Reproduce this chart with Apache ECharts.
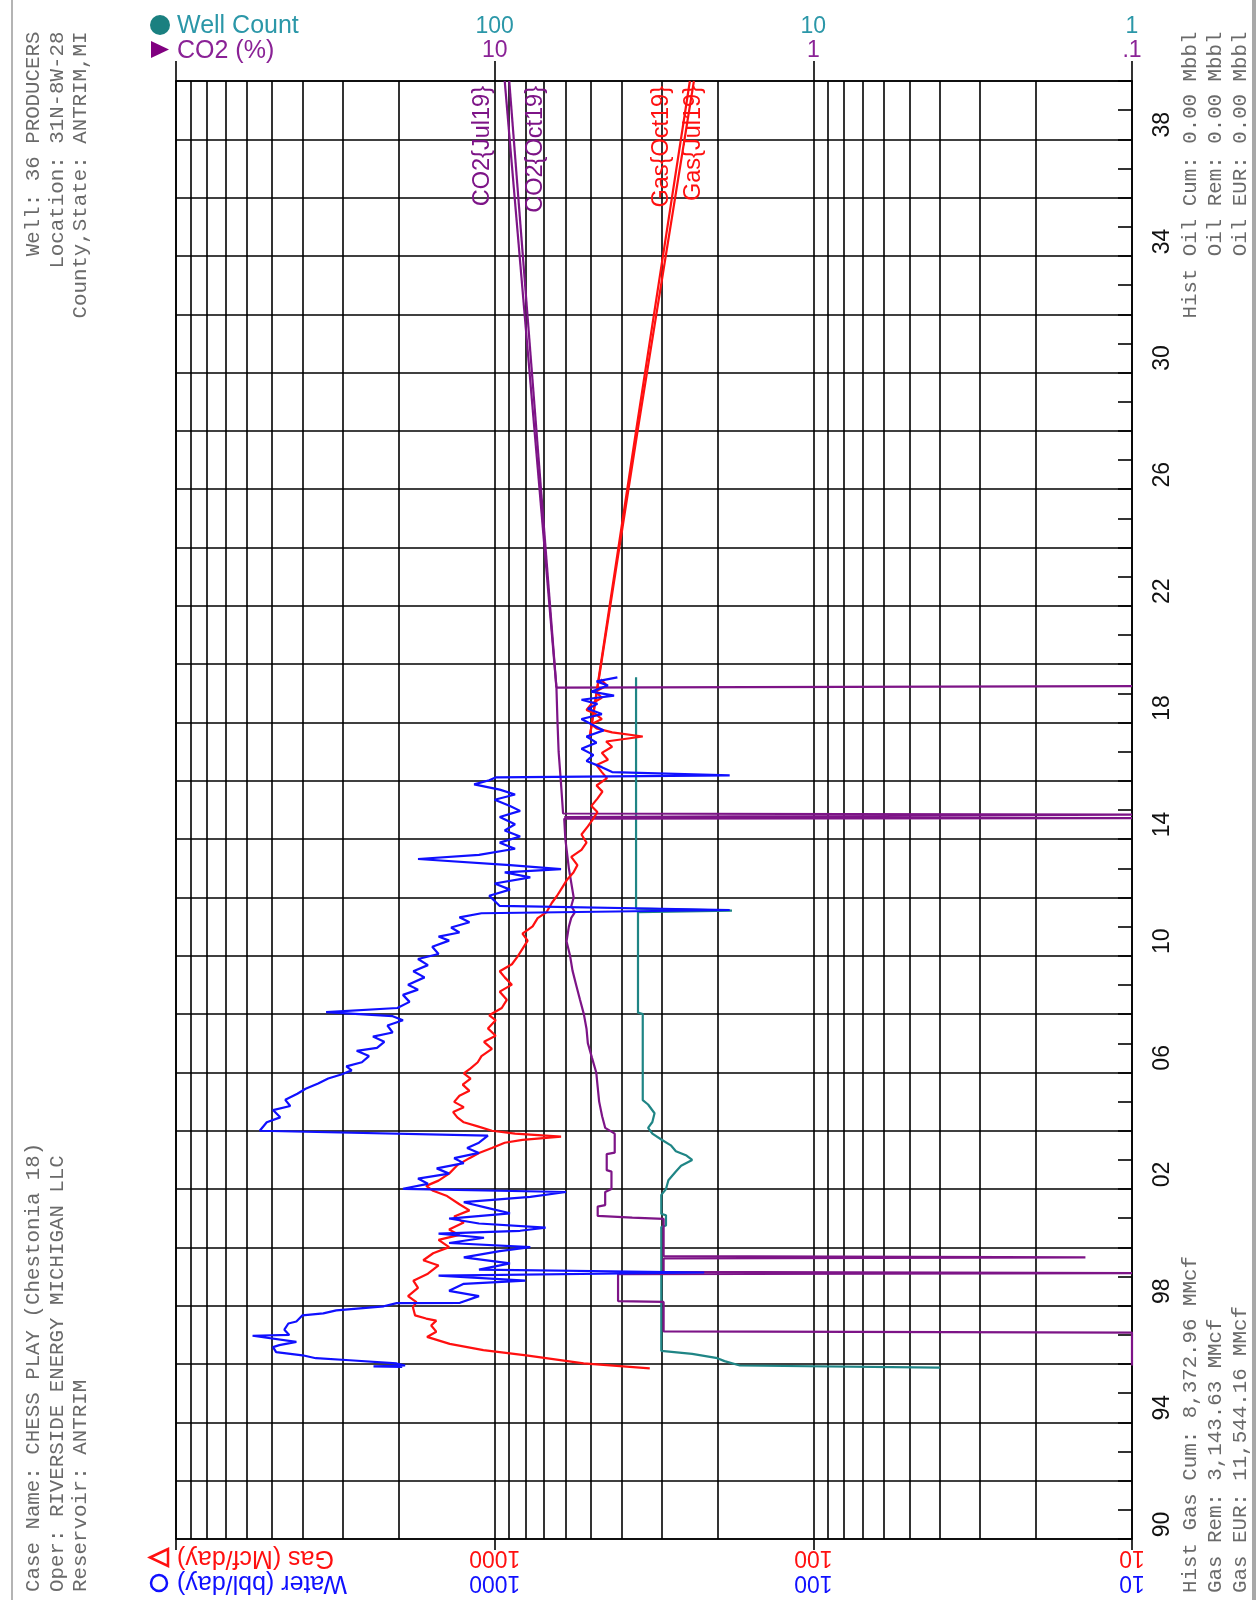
<!DOCTYPE html>
<html>
<head>
<meta charset="utf-8">
<title>CHESS PLAY (Chestonia 18) - Production</title>
<script src="https://cdn.jsdelivr.net/npm/echarts@6/dist/echarts.min.js"></script>
<style>
html, body { margin: 0; padding: 0; background: #fff; }
#chart { width: 1259px; height: 1600px; }
</style>
</head>
<body>
<div id="chart"></div>
<script>
// ---------------- data ----------------
// Water rate, bbl/day
const waterYears = [1995.90,1995.92,1995.95,1996.02,1996.13,1996.20,1996.30,1996.41,1996.58,1996.65,1996.76,1996.97,1997.00,1997.18,1997.39,1997.46,1997.67,1997.74,1997.84,1997.98,
  1998.09,1998.10,1998.33,1998.51,1998.75,1998.86,1999.03,1999.14,1999.24,1999.45,1999.66,1999.87,2000.01,2000.15,2000.33,2000.47,2000.57,2000.68,2000.82,2000.99,
  2001.17,2001.34,2001.55,2001.73,2001.90,2002.01,2002.18,2002.36,2002.53,2002.71,2002.89,2003.06,2003.24,2003.41,2003.59,2003.83,2004.00,2004.29,2004.46,2004.71,
  2004.85,2005.06,2005.27,2005.44,2005.62,2005.79,2005.93,2006.07,2006.21,2006.35,2006.56,2006.74,2006.84,2007.05,2007.23,2007.37,2007.61,2007.79,2007.93,2008.07,
  2008.21,2008.42,2008.66,2008.84,2009.01,2009.26,2009.47,2009.68,2009.89,2010.06,2010.31,2010.52,2010.66,2010.80,2010.97,2011.15,2011.32,2011.46,2011.57,2011.71,
  2012.06,2012.27,2012.48,2012.69,2012.86,2012.97,2013.11,2013.32,2013.46,2013.67,2013.88,2014.09,2014.30,2014.51,2014.76,2014.97,2015.14,2015.35,2015.53,2015.70,
  2015.88,2016.02,2016.12,2016.19,2016.30,2016.47,2016.68,2016.89,2017.10,2017.31,2017.52,2017.73,2017.94,2018.12,2018.29,2018.47,2018.64,2018.78,2018.92,2019.06,
  2019.27,2019.41,2019.55];
const waterRates = [1950,2400,1910,2030,2850,3640,4010,4850,4960,4740,4190,5750,4410,4570,4440,4190,4010,3450,3140,2230,
  2030,1285,1120,1390,1250,801,1500,220,1120,895,1250,964,773,1390,1080,1500,832,692,1120,1390,
  895,1040,1250,773,597,1940,1620,1740,1390,1520,1250,1340,1120,1220,1120,1050,5460,5190,4710,4960,
  4380,4540,4160,3920,3580,3330,3030,2810,2920,2610,2480,2710,2340,2220,2410,2090,2170,1940,2090,3380,
  2020,1850,1940,1740,1870,1660,1800,1620,1740,1500,1570,1390,1500,1290,1370,1200,1290,1100,183,964,
  1040,895,1000,773,930,619,895,1740,1120,863,964,832,930,863,964,832,895,1000,863,964,
  1160,1040,990,183,428,461,515,490,534,479,515,455,497,534,461,510,476,534,422,497,
  441,479,412];

// Gas rate, Mcf/day
const gasYears = [1995.85,1996.02,1996.30,1996.48,1996.69,1996.93,1997.11,1997.32,1997.49,1997.56,1997.67,1997.95,1998.12,1998.33,1998.61,1998.86,1999.10,1999.38,1999.56,1999.80,
  2000.01,2000.26,2000.43,2000.61,2000.85,2001.06,2001.27,2001.48,2001.76,2001.94,2002.11,2002.29,2002.53,2002.82,2003.06,2003.24,2003.41,2003.59,2003.69,2003.80,
  2003.90,2004.00,2004.15,2004.29,2004.46,2004.64,2004.81,2004.99,2005.20,2005.37,2005.58,2005.79,2005.97,2006.14,2006.35,2006.56,2006.81,2007.05,2007.26,2007.51,
  2007.79,2007.96,2008.21,2008.49,2008.77,2009.01,2009.26,2009.47,2009.71,2009.96,2010.24,2010.52,2010.76,2011.01,2011.29,2011.50,2011.81,2012.06,2012.34,2012.62,
  2012.86,2013.11,2013.39,2013.63,2013.88,2014.16,2014.44,2014.68,2014.93,2015.14,2015.39,2015.63,2015.84,2016.09,2016.30,2016.54,2016.72,2016.96,2017.17,2017.35,
  2017.52,2017.66,2017.80,2017.94,2018.12,2018.29,2018.43,2018.64,2018.85,2019.06,2019.27,2019.48];
const gasRates = [326,526,796,1085,1384,1630,1525,1582,1525,1641,1778,1805,1760,1870,1740,1800,1620,1500,1675,1560,
  1390,1500,1290,1390,1250,1340,1200,1290,1410,1560,1640,1500,1390,1310,1200,1120,1020,930,818,619,
  863,1020,1130,1250,1310,1350,1250,1340,1290,1200,1260,1190,1250,1190,1130,1100,1020,1080,993,1050,
  993,1040,950,916,964,883,930,964,883,849,818,788,818,760,733,687,662,637,614,592,
  566,550,575,534,515,534,510,492,476,497,476,459,479,444,461,479,441,461,428,447,
  343,428,479,497,461,482,515,497,461,482,444,465];

// Gas decline forecasts, Mcf/day
const gasJul19Years = [2017.5, 2028.0, 2040.0];
const gasJul19Rates = [503, 356, 237];
const gasOct19Years = [2017.5, 2028.0, 2040.0];
const gasOct19Rates = [503, 360, 244];

// Producing well count
const wellYears = [1995.88,1995.95,1996.10,1996.20,1996.35,1996.45,2000.70,2000.75,2001.10,2001.15,2001.80,2002.00,2002.30,2002.60,2002.80,2003.00,2003.15,2003.30,2003.50,2003.70,
  2003.90,2004.10,2004.30,2004.60,2004.90,2005.05,2008.00,2008.05,2011.50,2011.55,2011.62,2019.55];
const wellCounts = [4,17,19,20,24,30,30,29,29,30,30,29,28.5,27,26,24,25,27,28,30,
  32,33,32,31.5,33,34.3,34.3,35.5,35.5,18,36,36];

// CO2 content, %
const co2Years = [1995.95,1997.08,1997.12,1998.13,1998.16,1999.08,1999.12,1999.16,1999.62,1999.66,1999.70,2000.98,2001.02,2001.08,2001.40,2001.45,2001.90,2002.00,2002.60,2002.65,
  2003.20,2003.25,2003.90,2004.10,2004.50,2005.00,2005.50,2006.00,2006.50,2007.00,2007.50,2008.00,2008.50,2009.00,2009.50,2010.00,2010.50,2011.00,2011.30,2011.50,
  2011.70,2012.00,2013.00,2014.00,2014.70,2014.72,2014.76,2014.84,2014.88,2016.00,2017.00,2018.00,2019.20,2019.25];
const co2Pct = [0.1,0.1,2.95,2.95,4.1,4.1,0.1,2.95,2.95,0.14,2.95,2.95,3.7,4.75,4.75,4.5,4.5,4.3,4.3,4.45,
  4.45,4.2,4.2,4.5,4.6,4.7,4.75,4.8,4.95,5.1,5.15,5.25,5.4,5.55,5.7,5.8,5.95,5.85,5.75,5.6,
  5.75,5.65,5.85,6.0,6.05,0.1,6.05,0.1,6.1,6.2,6.3,6.35,6.4,0.1];

// CO2 forecasts, %
const co2Jul19Years = [2019.2, 2040.0];
const co2Jul19Pct = [6.4, 9.3];
const co2Oct19Years = [2019.2, 2040.0];
const co2Oct19Pct = [6.4, 9.0];

// Axis tick labels
const yearLabels = ['90','94','98','02','06','10','14','18','22','26','30','34','38'];
const rateLabels = { 1: '10', 2: '100', 3: '1000' };          // Gas / Water (bottom)
const wellLabels = { 0: '1', 1: '10', 2: '100' };             // Well Count (top)
const co2Labels  = { 0: '.1', 1: '1', 2: '10' };              // CO2 (top)
const minorSteps = [2, 3, 4, 5, 6, 7, 8, 9];
const decades = [10, 100, 1000];

// Header / footer text
const infoTopLeft = ['Well: 36 PRODUCERS', 'Location: 31N-8W-28', 'County,State: ANTRIM,MI'];
const infoBottomLeft = ['Case Name: CHESS PLAY (Chestonia 18)', 'Oper: RIVERSIDE ENERGY MICHIGAN LLC', 'Reservoir: ANTRIM'];
const infoTopRight = ['Hist Oil Cum: 0.00 Mbbl', 'Oil Rem: 0.00 Mbbl', 'Oil EUR: 0.00 Mbbl'];
const infoBottomRight = ['Hist Gas Cum: 8,372.96 MMcf', 'Gas Rem: 3,143.63 MMcf', 'Gas EUR: 11,544.16 MMcf'];

// ---------------- styling ----------------
const C = {
  water: '#1010ff', gas: '#ff1010', well: '#1f8585', co2: '#7d1487',
  wellText: '#2b97a8', co2Text: '#8a2296', grid: '#000000', info: '#6a6a6a'
};
const GRID_W = 1.6;
const LINE_W = 2.2;
const SANS = '"Liberation Sans", Arial, sans-serif';
const MONO = '"Liberation Mono", "Courier New", monospace';

const pairs = (ys, vs) => ys.map((y, i) => [vs[i], y]);
const lg = v => Math.round(Math.log10(v));

function lineSeries(name, xi, data, color, extra) {
  return Object.assign({
    name, type: 'line', xAxisIndex: xi, yAxisIndex: 0, data,
    symbol: 'none', silent: true, animation: false,
    lineStyle: { color, width: LINE_W }, itemStyle: { color }
  }, extra || {});
}

// forecast line with its tag written along the line's top end
// (label offset is given in the rotated text frame: [along text, across text])
function forecastSeries(name, xi, ys, vs, color, dx) {
  const data = pairs(ys, vs);
  const last = data.length - 1;
  data[last] = {
    value: data[last],
    label: {
      show: true, formatter: name, rotate: 90, position: 'inside',
      align: 'right', verticalAlign: 'middle', offset: [-5, dx],
      color, fontFamily: SANS, fontSize: 23.5
    }
  };
  return lineSeries(name, xi, data, color, {
    symbol: 'circle', symbolSize: 0, showSymbol: true, showAllSymbol: true,
    itemStyle: { color: 'rgba(0,0,0,0)' }
  });
}

const minorValues = [];
decades.forEach(d => minorSteps.forEach(s => minorValues.push(d * s)));

function infoBlock(lines, xs, yAnchor, align) {
  return lines.map((t, i) => ({
    type: 'text', x: xs[i], y: yAnchor, rotation: Math.PI / 2, silent: true,
    style: { text: t, fill: C.info, font: '20.8px ' + MONO, textAlign: align, textVerticalAlign: 'middle' }
  }));
}

const chart = echarts.init(document.getElementById('chart'), null, { renderer: 'canvas' });

const option = {
  animation: false,
  backgroundColor: '#ffffff',
  textStyle: { fontFamily: SANS },
  grid: { left: 176, right: 127, top: 81, bottom: 61, containLabel: false, outerBoundsMode: 'none' },
  xAxis: [
    { // Gas (Mcf/day) and Water (bbl/day)
      type: 'log', logBase: 10, min: 10, max: 10000, inverse: true, position: 'bottom',
      axisLine: { show: true, lineStyle: { color: C.grid, width: GRID_W } },
      axisTick: { show: true, length: 11, lineStyle: { color: C.grid, width: GRID_W } },
      splitLine: { show: true, lineStyle: { color: C.grid, width: GRID_W } },
      minorTick: { show: false }, minorSplitLine: { show: false },
      axisLabel: {
        show: true, rotate: 180, margin: 6,
        formatter: v => {
          const t = rateLabels[lg(v)];
          return t ? '{w|' + t + '}\n{g|' + t + '}' : '';
        },
        rich: {
          g: { color: C.gas, fontSize: 23, lineHeight: 25, fontFamily: SANS },
          w: { color: C.water, fontSize: 23, lineHeight: 25, fontFamily: SANS }
        }
      }
    },
    { // Well Count
      type: 'log', logBase: 10, min: 1, max: 1000, inverse: true, position: 'top',
      axisLine: { show: true, lineStyle: { color: C.grid, width: GRID_W } },
      axisTick: { show: true, length: 20, lineStyle: { color: C.grid, width: GRID_W } },
      splitLine: { show: false }, minorTick: { show: false },
      axisLabel: {
        show: true, margin: 18,
        formatter: v => {
          const e = lg(v);
          return wellLabels[e] ? '{a|' + wellLabels[e] + '}\n{b|' + co2Labels[e] + '}' : '';
        },
        rich: {
          a: { color: C.wellText, fontSize: 23, lineHeight: 24, fontFamily: SANS },
          b: { color: C.co2Text, fontSize: 23, lineHeight: 24, fontFamily: SANS }
        }
      }
    },
    { // CO2 (%)
      type: 'log', logBase: 10, min: 0.1, max: 100, inverse: true, position: 'top', show: false
    }
  ],
  yAxis: [
    { // two-year grid
      type: 'value', min: 1990, max: 2040, interval: 2, position: 'left',
      axisLine: { show: true, lineStyle: { color: C.grid, width: GRID_W } },
      axisTick: { show: false }, axisLabel: { show: false },
      splitLine: { show: true, lineStyle: { color: C.grid, width: GRID_W } }
    },
    { // yearly ticks on the right edge
      type: 'value', min: 1990, max: 2040, interval: 1, position: 'right',
      axisLine: { show: true, lineStyle: { color: C.grid, width: GRID_W } },
      axisTick: { show: true, inside: true, length: 14, lineStyle: { color: C.grid, width: GRID_W } },
      axisLabel: { show: false }, splitLine: { show: false }
    },
    { // year labels, centred in their year
      type: 'value', min: 1990, max: 2040, interval: 0.5, position: 'right',
      axisLine: { show: false }, axisTick: { show: false }, splitLine: { show: false },
      axisLabel: {
        show: true, rotate: 90, margin: 19, color: '#111', fontSize: 23, lineHeight: 24, fontFamily: SANS,
        formatter: v => {
          const k = (v - 1990.5) / 4;
          return (Math.abs(k - Math.round(k)) < 1e-6 && yearLabels[Math.round(k)]) ? yearLabels[Math.round(k)] : '';
        }
      }
    }
  ],
  series: [
    { // minor log grid lines (2..9 within each decade)
      type: 'line', xAxisIndex: 0, yAxisIndex: 0, data: [[10, 1990]], symbol: 'none', silent: true,
      lineStyle: { width: 0, opacity: 0 },
      markLine: {
        silent: true, symbol: ['none', 'none'], z: 1, animation: false,
        label: { show: false }, emphasis: { disabled: true },
        lineStyle: { color: C.grid, width: GRID_W, type: 'solid' },
        data: minorValues.map(v => ({ xAxis: v }))
      }
    },
    lineSeries('Well Count', 1, pairs(wellYears, wellCounts), C.well),
    lineSeries('CO2', 2, pairs(co2Years, co2Pct), C.co2),
    forecastSeries('CO2{Jul19}', 2, co2Jul19Years, co2Jul19Pct, C.co2, -22),
    forecastSeries('CO2{Oct19}', 2, co2Oct19Years, co2Oct19Pct, C.co2, 26),
    lineSeries('Gas', 0, pairs(gasYears, gasRates), C.gas),
    forecastSeries('Gas{Oct19}', 0, gasOct19Years, gasOct19Rates, C.gas, -28),
    forecastSeries('Gas{Jul19}', 0, gasJul19Years, gasJul19Rates, C.gas, 0),
    lineSeries('Water', 0, pairs(waterYears, waterRates), C.water)
  ],
  graphic: [
    // page frame
    { type: 'rect', shape: { x: 11, y: 0, width: 2, height: 1600 }, style: { fill: '#b4b4b4' }, silent: true },
    { type: 'rect', shape: { x: 1252, y: 0, width: 4, height: 1600 }, style: { fill: '#a8a8a8' }, silent: true },
    // legend: top
    { type: 'circle', shape: { cx: 160, cy: 25, r: 10 }, style: { fill: '#1a8080' }, silent: true },
    { type: 'polygon', shape: { points: [[151, 41], [151, 58], [169, 49.5]] }, style: { fill: '#800080' }, silent: true },
    { type: 'text', x: 177, y: 26, silent: true,
      style: { text: 'Well Count', fill: C.wellText, font: '25px ' + SANS, textAlign: 'left', textVerticalAlign: 'middle' } },
    { type: 'text', x: 177, y: 51, silent: true,
      style: { text: 'CO2 (%)', fill: C.co2Text, font: '25px ' + SANS, textAlign: 'left', textVerticalAlign: 'middle' } },
    // legend: bottom (upside down)
    { type: 'polygon', shape: { points: [[150, 1557.5], [168, 1549], [168, 1566]] },
      style: { fill: 'none', stroke: C.gas, lineWidth: 2.5 }, silent: true },
    { type: 'circle', shape: { cx: 159, cy: 1583, r: 8 }, style: { fill: 'none', stroke: C.water, lineWidth: 2.5 }, silent: true },
    { type: 'text', x: 177, y: 1557.5, rotation: Math.PI, silent: true,
      style: { text: 'Gas (Mcf/day)', fill: C.gas, font: '25px ' + SANS, textAlign: 'right', textVerticalAlign: 'middle' } },
    { type: 'text', x: 177, y: 1582.5, rotation: Math.PI, silent: true,
      style: { text: 'Water (bbl/day)', fill: C.water, font: '25px ' + SANS, textAlign: 'right', textVerticalAlign: 'middle' } }
  ]
    .concat(infoBlock(infoTopLeft, [33, 57, 80], 31.5, 'right'))
    .concat(infoBlock(infoBottomLeft, [33, 57, 80], 1592, 'left'))
    .concat(infoBlock(infoTopRight, [1190, 1215, 1240], 31.5, 'right'))
    .concat(infoBlock(infoBottomRight, [1190, 1215, 1240], 1593, 'left'))
};

chart.setOption(option);
</script>
</body>
</html>
